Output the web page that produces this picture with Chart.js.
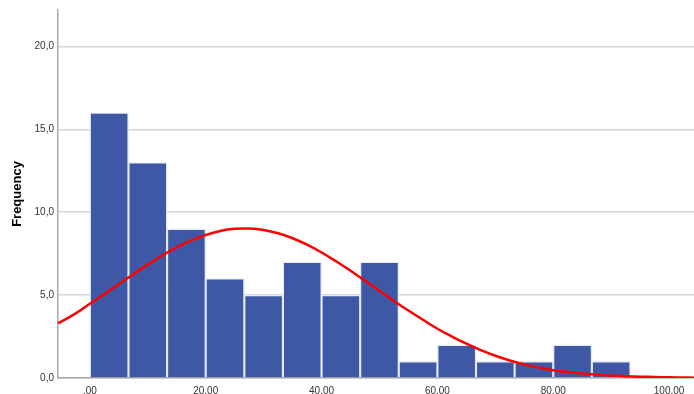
<!DOCTYPE html>
<html>
<head>
<meta charset="utf-8">
<title>Frequency histogram</title>
<script src="https://cdn.jsdelivr.net/npm/chart.js@4.4.1/dist/chart.umd.min.js"></script>
<style>
  html, body { margin: 0; padding: 0; background: #ffffff; }
  #wrap { position: relative; width: 694px; height: 394px; }
</style>
</head>
<body>
<div id="wrap"><canvas id="chart" width="694" height="394"></canvas></div>
<script>
// Histogram bins: centre of each bin (bin width 6.667) and its count
const binCenters = [3.333, 10.0, 16.667, 23.333, 30.0, 36.667, 43.333, 50.0, 56.667, 63.333, 70.0, 76.667, 83.333, 90.0];
const binCounts  = [16, 13, 9, 6, 5, 7, 5, 7, 1, 2, 1, 1, 2, 1];

// Fitted normal curve, sampled along the x range
const curveX = [-5.5, -2.5, 0, 2.5, 5, 7.5, 10, 12.5, 15, 17.5, 20, 22.5, 25, 27.5, 30, 32.5, 35, 37.5, 40, 42.5, 45, 47.5, 50, 52.5, 55, 57.5, 60, 62.5, 65, 67.5, 70, 72.5, 75, 77.5, 80, 82.5, 85, 87.5, 90, 92.5, 95, 97.5, 100, 102.5, 104.3];
const curveY = [3.30, 3.88, 4.48, 5.06, 5.66, 6.26, 6.84, 7.39, 7.88, 8.30, 8.63, 8.87, 9.00, 9.02, 8.93, 8.73, 8.43, 8.04, 7.57, 7.04, 6.47, 5.87, 5.26, 4.65, 4.07, 3.51, 2.97, 2.50, 2.07, 1.68, 1.34, 1.06, 0.82, 0.63, 0.47, 0.36, 0.27, 0.20, 0.15, 0.11, 0.08, 0.06, 0.04, 0.03, 0.02];

// Axis ticks and their labels
const xTickValues = [0, 20, 40, 60, 80, 100];
const xTickLabels = [',00', '20,00', '40,00', '60,00', '80,00', '100,00'];
const yTickValues = [0, 5, 10, 15, 20];
const yTickLabels = ['0,0', '5,0', '10,0', '15,0', '20,0'];

const barPoints = binCenters.map((x, i) => ({ x: x, y: binCounts[i] }));
const curvePoints = curveX.map((x, i) => ({ x: x, y: curveY[i] }));

const tickFont = { family: "'Liberation Sans', Arial, sans-serif", size: 10 };

new Chart(document.getElementById('chart'), {
  type: 'bar',
  data: {
    datasets: [
      {
        type: 'line',
        data: curvePoints,
        borderColor: '#ff0000',
        borderWidth: 2.5,
        pointRadius: 0,
        tension: 0.4,
        fill: false,
        order: 0
      },
      {
        type: 'bar',
        data: barPoints,
        backgroundColor: '#3e58a6',
        borderColor: '#e6eaf5',
        borderWidth: 1.4,
        barPercentage: 1.0,
        categoryPercentage: 1.0,
        grouped: false,
        order: 1
      }
    ]
  },
  options: {
    responsive: false,
    animation: false,
    layout: { padding: { top: 10, right: 0, bottom: 0, left: 0 } },
    plugins: {
      legend: { display: false },
      tooltip: { enabled: false }
    },
    scales: {
      x: {
        type: 'linear',
        min: -5.5,
        max: 104.3,
        offset: false,
        grid: { display: false, drawTicks: false },
        border: { display: true, color: '#a8a8a8', width: 1.5 },
        afterBuildTicks: (axis) => { axis.ticks = xTickValues.map(v => ({ value: v })); },
        afterFit: (axis) => { axis.height = 16; },
        ticks: {
          autoSkip: false,
          maxRotation: 0,
          padding: 7,
          color: '#333333',
          font: tickFont,
          callback: (v) => xTickLabels[xTickValues.indexOf(v)]
        }
      },
      y: {
        type: 'linear',
        min: 0,
        max: 22.2,
        grid: { color: '#d6d6d6', lineWidth: 1.5, drawTicks: false },
        border: { display: true, color: '#a8a8a8', width: 1.5 },
        afterBuildTicks: (axis) => { axis.ticks = yTickValues.map(v => ({ value: v })); },
        afterFit: (axis) => { axis.width = 58; },
        title: {
          display: true,
          text: 'Frequency',
          color: '#000000',
          font: { family: "'Liberation Sans', Arial, sans-serif", size: 13, weight: 'bold' },
          padding: { top: 10, bottom: 0 }
        },
        ticks: {
          padding: 4,
          color: '#333333',
          font: tickFont,
          callback: (v) => yTickLabels[yTickValues.indexOf(v)]
        }
      }
    }
  }
});
</script>
</body>
</html>
